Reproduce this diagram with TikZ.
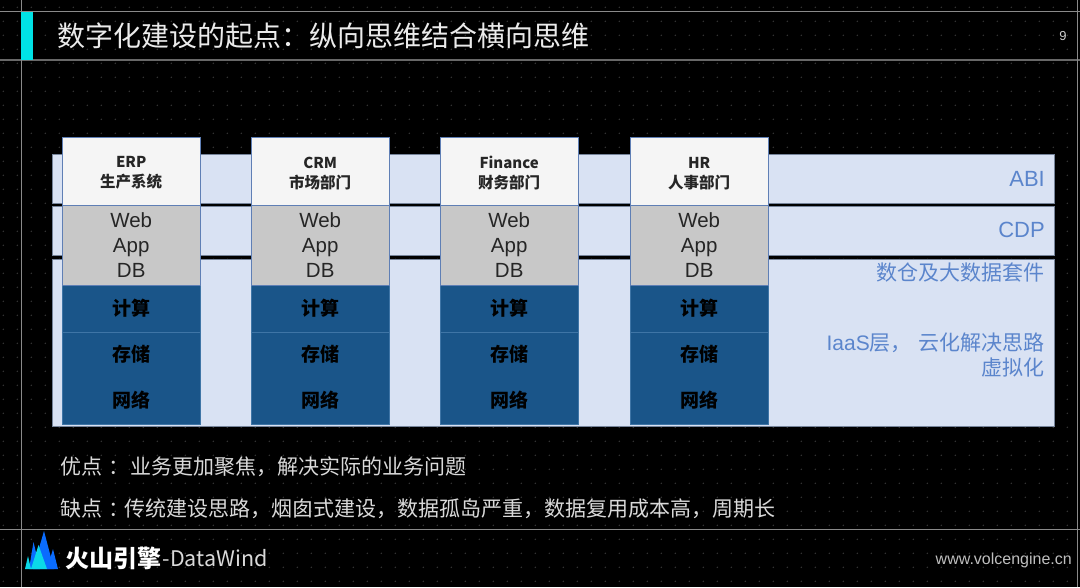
\documentclass[tikz,border=0pt]{standalone}
\usepackage{fontspec}
\setmainfont{Liberation Sans}
\newfontfamily\cjk{Noto Sans CJK SC}
\usepackage{xcolor}
\usetikzlibrary{positioning}
\definecolor{layerfill}{HTML}{D9E2F3}
\definecolor{layerline}{HTML}{76849A}
\definecolor{layertext}{HTML}{5B85CC}
\definecolor{colline}{HTML}{5F7FB5}
\definecolor{headfill}{HTML}{F5F5F5}
\definecolor{appfill}{HTML}{C8C8C8}
\definecolor{infrafill}{HTML}{1A5589}
\definecolor{seam}{HTML}{3F75A6}
\definecolor{ruleline}{HTML}{8A8A8A}
\definecolor{accent}{HTML}{00E3E6}
\definecolor{peakblue}{HTML}{0A6CFF}
\definecolor{peakcyan}{HTML}{0BD8E8}
\tikzset{
  layerbox/.style={draw=layerline, fill=layerfill, minimum width=1002pt, anchor=north west, inner sep=0pt},
  layerlabel/.style={anchor=east, inner sep=0pt, text=layertext, align=right, font=\fontsize{22}{25}\selectfont},
  headbox/.style={draw=colline, fill=headfill, minimum width=138pt, minimum height=68pt, anchor=north west, inner sep=0pt},
  headlabel/.style={inner sep=0pt, align=center, text=black!85, yshift=-2pt, font=\fontsize{15}{20}\cjk\bfseries},
  appbox/.style={draw=colline, fill=appfill, minimum width=138pt, minimum height=80pt, anchor=north, inner sep=0pt},
  applabel/.style={inner sep=0pt, align=center, text=black!85, yshift=1pt, font=\fontsize{20.5}{25}\selectfont},
  infrabox/.style={fill=infrafill, minimum width=138pt, minimum height=45.6pt, anchor=north, inner sep=0pt, text=black, text height=15pt, text depth=2.6pt, font=\fontsize{19}{23}\cjk\bfseries},
  noteline/.style={anchor=west, inner sep=0pt, text=white!85!black, font=\fontsize{21}{25}\cjk},
  ruler/.style={ruleline, line width=1pt}
}
\begin{document}
\begin{tikzpicture}[x=1pt, y=-1pt]
  \fill[black] (0,0) rectangle (1080,587);
  \useasboundingbox (0,0) rectangle (1080,587);
  % dot grid
  \foreach \i in {0,...,76} \foreach \j in {0,...,41}
    \fill[white!22!black] (3.3+14*\i,7.3+14*\j) circle (0.8);
  % frame
  \draw[ruler] (0,11.3)--(1080,11.3);
  \draw[ruler, line width=1.3pt, ruleline!75!black] (0,60)--(1080,60);
  \draw[ruler] (0,529)--(1080,529);
  \draw[ruler] (21,0)--(21,587);
  \draw[ruler] (1077.5,0)--(1077.5,587);
  \fill[accent] (21,11.5) rectangle (33,60);
  \node[anchor=west, inner sep=0pt, text=white!92!black, font=\fontsize{28}{32}\cjk] (title) at (57,36) {数字化建设的起点：纵向思维结合横向思维};
  \node[inner sep=0pt, text=white!80!black, font=\fontsize{13}{15}\selectfont] (page) at (1063,36) {9};
  % layers
  \node[layerbox, minimum height=49pt] (abi) at (52,154) {};
  \node[layerbox, minimum height=49pt] (cdp) at (52,206) {};
  \node[layerbox, minimum height=167pt] (base) at (52,259) {};
  \node[layerlabel] (abilabel) at (1045,179) {ABI};
  \node[layerlabel] (cdplabel) at (1045,230) {CDP};
  \node[layerlabel, font=\fontsize{21}{25}\cjk] (dwlabel) at (1045,273) {数仓及大数据套件};
  \node[layerlabel, font=\fontsize{21}{25}\selectfont] (iaaslabel) at (1045,355) {IaaS{\cjk 层，\hspace{7pt}云化解决思路}\\{\cjk 虚拟化}};
  % columns
  \foreach \i/\x/\nm/\dept in {1/62/ERP/生产系统, 2/251/CRM/市场部门, 3/440/Finance/财务部门, 4/630/HR/人事部门} {
    \node[headbox] (head\i) at (\x,137) {};
    \node[headlabel] (headtext\i) at (head\i.center) {\nm\\{\fontsize{15.5}{20}\cjk \dept}};
    \node[appbox, below=0pt of head\i] (app\i) {};
    \node[applabel] (apptext\i) at (app\i.center) {Web\\App\\DB};
    \node[infrabox, below=0pt of app\i] (calc\i) {计算};
    \node[infrabox, below=0pt of calc\i] (store\i) {存储};
    \node[infrabox, below=0pt of store\i] (net\i) {网络};
    \draw[seam, line width=0.6pt] (calc\i.south west)--(calc\i.south east);
    \draw[seam, line width=0.6pt] (calc\i.north west)--(net\i.south west)--(net\i.south east)--(calc\i.north east);
  }
  % notes
  \node[noteline] (pros) at (60,467) {优点\hspace{6pt}：\hspace{1pt}业务更加聚焦，解决实际的业务问题};
  \node[noteline] (cons) at (60,509) {缺点\hspace{6pt}：\hspace{-5pt}传统建设思路，烟囱式建设，数据孤岛严重，数据复用成本高，周期长};
  % logo
  \fill[peakblue] (33,569)--(44,531)--(54,569)--cycle;
  \fill[peakblue] (29,569)--(33.5,542)--(40,569)--cycle;
  \fill[peakblue] (47,569)--(53,549)--(58,569)--cycle;
  \fill[peakcyan] (25,569)--(28,556)--(31,569)--cycle;
  \fill[peakcyan] (31,569)--(38.5,545)--(47,569)--cycle;
  \node[anchor=west, inner sep=0pt, text=white, font=\fontsize{24}{28}\cjk\bfseries] (brand) at (65,558) {火山引擎};
  \node[right=1pt of brand, inner sep=0pt, text=white!85!black, font=\fontsize{21.5}{25}\cjk] (product) {-DataWind};
  \node[anchor=east, inner sep=0pt, text=white!75!black, font=\fontsize{16}{18}\selectfont] (site) at (1072,560) {www.volcengine.cn};
\end{tikzpicture}
\end{document}
